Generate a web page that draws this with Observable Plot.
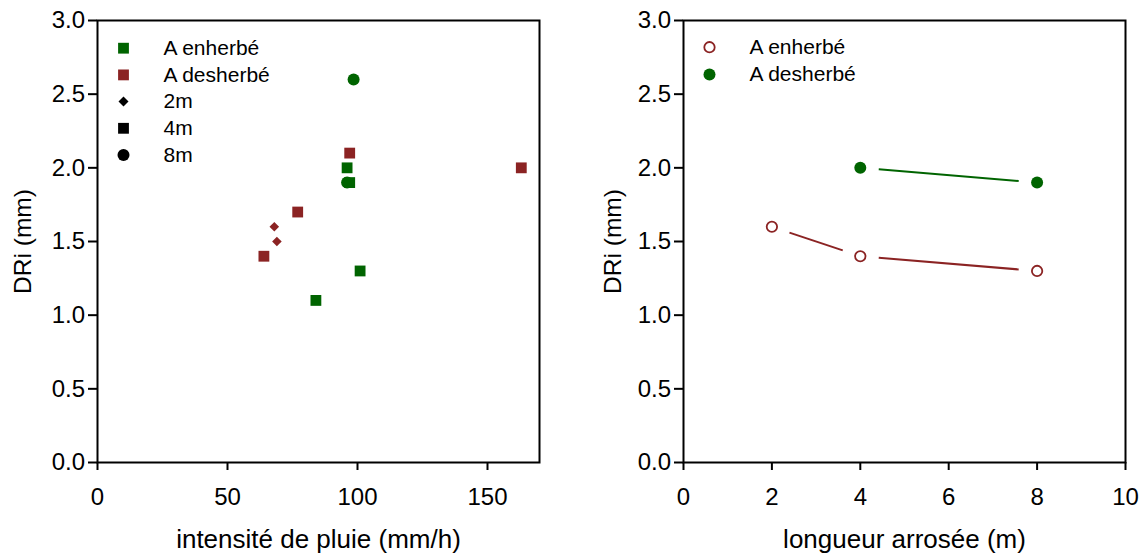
<!DOCTYPE html>
<html>
<head>
<meta charset="utf-8">
<script src="https://cdn.jsdelivr.net/npm/d3@7"></script>
<script src="https://cdn.jsdelivr.net/npm/@observablehq/plot@0.6"></script>
<style>
  html, body { margin: 0; padding: 0; background: #fff; }
  #wrap { display: flex; width: 1140px; height: 556px; }
</style>
</head>
<body>
<div id="wrap"></div>
<script>
// ---- Left panel data (intensité de pluie vs DRi) ----
const enherbeIntensity = [98.5, 96, 96, 97, 101, 84];
const enherbeDRi       = [2.6, 2.0, 1.9, 1.9, 1.3, 1.1];
const enherbeLength    = ["8m", "4m", "8m", "4m", "4m", "4m"];

const desherbeIntensity = [97, 163, 77, 68, 69, 64];
const desherbeDRi       = [2.1, 2.0, 1.7, 1.6, 1.5, 1.4];
const desherbeLength    = ["4m", "4m", "4m", "2m", "2m", "4m"];

// ---- Right panel data (longueur arrosée vs DRi) ----
const enherbeLengthM = [2, 4, 8];
const enherbeDRiM    = [1.6, 1.4, 1.3];
const desherbeLengthM = [4, 8];
const desherbeDRiM    = [2.0, 1.9];

// ---- Ticks / labels ----
const yTicks = [0, 0.5, 1, 1.5, 2, 2.5, 3];
const xTicksLeft = [0, 50, 100, 150];
const xTicksRight = [0, 2, 4, 6, 8, 10];
const yTitle = "DRi (mm)";
const xTitleLeft = "intensité de pluie (mm/h)";
const xTitleRight = "longueur arrosée (m)";

const legendLeftLabels = ["A enherbé", "A desherbé", "2m", "4m", "8m"];
const legendLeftSymbols = ["square", "square", "diamond2", "square", "circle"];
const legendRightLabels = ["A enherbé", "A desherbé"];

const GREEN = "#006400";
const RED = "#8b2323";
const legendLeftColors = [GREEN, RED, "black", "black", "black"];

const symR = { "2m": 4.3, "4m": 6.1, "8m": 6 };
const symName = { "2m": "diamond2", "4m": "square", "8m": "circle" };

function rows(xs, ys, ls, group) {
  return xs.map((x, i) => ({ x, y: ys[i], len: ls ? ls[i] : null, group }));
}
const leftData = [
  ...rows(enherbeIntensity, enherbeDRi, enherbeLength, "enherbe"),
  ...rows(desherbeIntensity, desherbeDRi, desherbeLength, "desherbe")
];
const colorOf = g => g === "enherbe" ? GREEN : RED;

const W = 570, H = 556, MT = 20, MB = 94;
const STYLE = { fontFamily: "'Liberation Sans', Arial, sans-serif", background: "white", color: "black" };

function axes(xTicks, xTitle, yTitleDx) {
  return [
    Plot.axisX({ ticks: xTicks, tickSize: 8, tickPadding: 17, fontSize: 24, strokeWidth: 2, fill: "black", label: null }),
    Plot.axisY({ ticks: yTicks, tickSize: 9, tickPadding: 3.5, fontSize: 24, strokeWidth: 2, fill: "black", tickFormat: d3.format(".1f"), label: null }),
    Plot.frame({ stroke: "black", strokeWidth: 2 }),
    Plot.text([yTitle], { text: d => d, frameAnchor: "left", dx: yTitleDx, rotate: -90, textAnchor: "middle", lineAnchor: "middle", fontSize: 24.5, fill: "black" }),
    Plot.text([xTitle], { text: d => d, frameAnchor: "bottom", dy: 77, textAnchor: "middle", lineAnchor: "middle", fontSize: 26, fill: "black" })
  ];
}

// Left plot marks
const leftMarks = [];
for (const len of ["8m", "4m", "2m"]) {
  leftMarks.push(Plot.dot(leftData.filter(d => d.len === len), {
    x: "x", y: "y", symbol: () => symName[len], r: symR[len],
    fill: d => colorOf(d.group), stroke: "none"
  }));
}
const legendRowDy = [27.7, 54.4, 81.1, 107.8, 134.5];
const legendLeftMarks = legendLeftLabels.flatMap((lab, i) => {
  const sym = legendLeftSymbols[i];
  const r = sym === "diamond2" ? 4.5 : sym === "circle" ? 6 : 6.1;
  return [
    Plot.dot([lab], { frameAnchor: "top-left", dx: 26, dy: legendRowDy[i], symbol: () => sym, r, fill: legendLeftColors[i], stroke: "none" }),
    Plot.text([lab], { text: d => d, frameAnchor: "top-left", dx: 66, dy: legendRowDy[i], textAnchor: "start", lineAnchor: "middle", fontSize: 21, fill: "black" })
  ];
});

const left = Plot.plot({
  width: W, height: H,
  marginLeft: 97, marginRight: 31, marginTop: MT, marginBottom: MB,
  style: STYLE,
  x: { domain: [0, 170] },
  y: { domain: [0, 3] },
  symbol: { type: "identity" },
  marks: [...axes(xTicksLeft, xTitleLeft, -74), ...leftMarks, ...legendLeftMarks]
});

// Right plot
function segs(xs, ys) {
  const out = [];
  for (let i = 0; i < xs.length - 1; i++) out.push({ x1: xs[i], y1: ys[i], x2: xs[i + 1], y2: ys[i + 1] });
  return out;
}
const rightEn = rows(enherbeLengthM, enherbeDRiM, null, "enherbe");
const rightDe = rows(desherbeLengthM, desherbeDRiM, null, "desherbe");
const legendRightDy = [26.7, 54];

const right = Plot.plot({
  width: W, height: H,
  marginLeft: 113, marginRight: 15, marginTop: MT, marginBottom: MB,
  style: STYLE,
  x: { domain: [0, 10] },
  y: { domain: [0, 3] },
  marks: [
    ...axes(xTicksRight, xTitleRight, -70.5),
    Plot.arrow(segs(enherbeLengthM, enherbeDRiM), { x1: "x1", y1: "y1", x2: "x2", y2: "y2", stroke: RED, strokeWidth: 2, headLength: 0, inset: 18.5, strokeLinecap: "butt" }),
    Plot.arrow(segs(desherbeLengthM, desherbeDRiM), { x1: "x1", y1: "y1", x2: "x2", y2: "y2", stroke: GREEN, strokeWidth: 2, headLength: 0, inset: 18.5, strokeLinecap: "butt" }),
    Plot.dot(rightEn, { x: "x", y: "y", r: 5.2, fill: "white", stroke: RED, strokeWidth: 1.8 }),
    Plot.dot(rightDe, { x: "x", y: "y", r: 6, fill: GREEN, stroke: "none" }),
    Plot.dot([legendRightLabels[0]], { frameAnchor: "top-left", dx: 26, dy: legendRightDy[0], r: 5.2, fill: "white", stroke: RED, strokeWidth: 1.8 }),
    Plot.dot([legendRightLabels[1]], { frameAnchor: "top-left", dx: 26, dy: legendRightDy[1], r: 6, fill: GREEN, stroke: "none" }),
    ...legendRightLabels.map((lab, i) => Plot.text([lab], { text: d => d, frameAnchor: "top-left", dx: 66, dy: legendRightDy[i], textAnchor: "start", lineAnchor: "middle", fontSize: 21, fill: "black" }))
  ]
});

document.getElementById("wrap").append(left, right);
</script>
</body>
</html>
